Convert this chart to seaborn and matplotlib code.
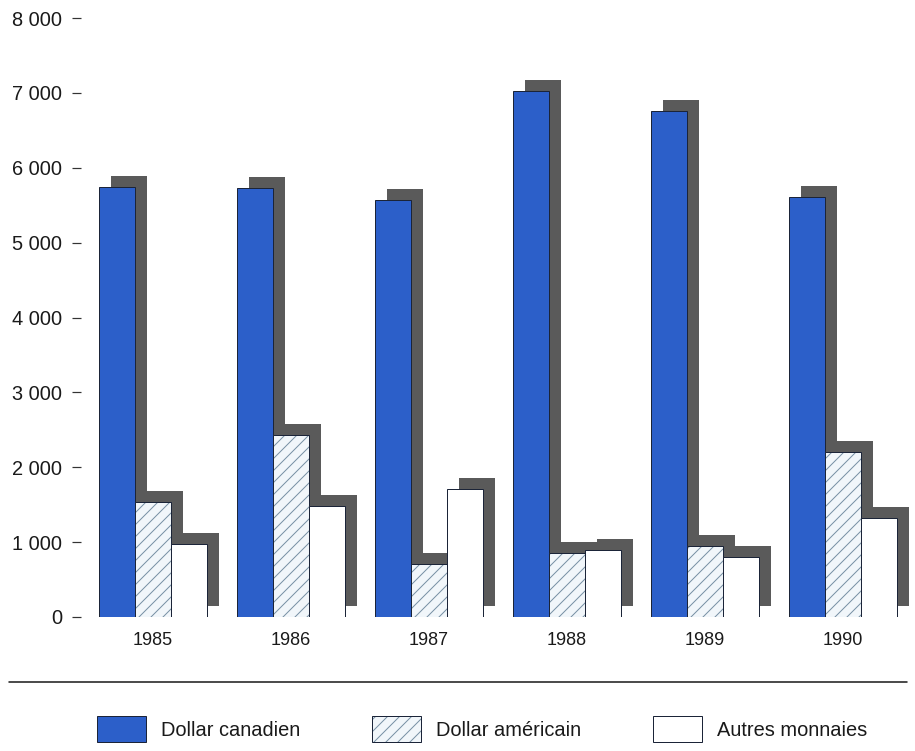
import matplotlib
matplotlib.use("Agg")
import matplotlib.pyplot as plt
import matplotlib.transforms as mtransforms
from matplotlib.patches import Rectangle, Patch
from matplotlib.lines import Line2D
from matplotlib.colors import to_rgba
from matplotlib.ticker import FuncFormatter
import seaborn as sns
import pandas as pd

# ---- data ----
years = ["1985", "1986", "1987", "1988", "1989", "1990"]
series = ["Dollar canadien", "Dollar américain", "Autres monnaies"]
cad = [5745, 5730, 5565, 7030, 6760, 5605]
usd = [1540, 2430, 710, 850, 945, 2200]
other = [975, 1480, 1710, 900, 805, 1325]
yticks = [0, 1000, 2000, 3000, 4000, 5000, 6000, 7000, 8000]

df = pd.DataFrame({
    "year": years * 3,
    "series": [series[0]] * 6 + [series[1]] * 6 + [series[2]] * 6,
    "value": cad + usd + other,
})

# ---- style ----
sns.set_theme(style="white")
plt.rcParams["font.family"] = ["Liberation Sans", "DejaVu Sans"]
plt.rcParams["hatch.linewidth"] = 1.0

BLUE = "#2c5fc9"
EDGE = "#1b2438"
HATCH_BG = "#f1f6fa"
HATCH_COL = "#7890a4"
SHADOW = "#5a5a5a"

DPI = 72
fig = plt.figure(figsize=(915 / DPI, 751 / DPI), dpi=DPI)
ax = fig.add_axes([84 / 915, (751 - 617) / 751, 828 / 915, 599 / 751])

palette = {series[0]: BLUE, series[1]: HATCH_BG, series[2]: "white"}
sns.barplot(data=df, x="year", y="value", hue="series", hue_order=series,
            order=years, palette=palette, saturation=1, width=0.78,
            legend=False, ax=ax, zorder=3)

hatches = ["", "//", ""]
shadow_tr = ax.transData + mtransforms.ScaledTranslation(12 / DPI, 11 / DPI, fig.dpi_scale_trans)

def set_hatch_color(p, c):
    if hasattr(p, "set_hatchcolor"):
        p.set_hatchcolor(c)
    else:
        p._hatch_color = to_rgba(c)

for cont, h in zip(ax.containers, hatches):
    for p in cont.patches:
        p.set_edgecolor(EDGE)
        p.set_linewidth(1.0)
        p.set_zorder(3)
        if h:
            p.set_hatch(h)
            set_hatch_color(p, HATCH_COL)
        sh = Rectangle((p.get_x(), p.get_y()), p.get_width(), p.get_height(),
                       transform=shadow_tr, facecolor=SHADOW, edgecolor="none",
                       zorder=1, clip_on=False)
        ax.add_patch(sh)

ax.set_xlim(-0.5, len(years) - 0.5)
ax.set_ylim(0, 8000)
ax.set_yticks(yticks)
ax.yaxis.set_major_formatter(FuncFormatter(lambda v, pos: f"{int(v):,}".replace(",", " ")))
ax.set_xlabel("")
ax.set_ylabel("")

for s in ["top", "right", "bottom", "left"]:
    ax.spines[s].set_visible(False)
ax.spines["left"].set_position(("outward", 3))

ax.tick_params(axis="y", left=True, length=9, width=1.2, color="#333333",
               pad=10, labelsize=20, labelcolor="#1a1a1a")
ax.tick_params(axis="x", bottom=True, length=0, pad=15, labelsize=18,
               labelcolor="#1a1a1a")
ax.grid(False)

# separator line
fig.add_artist(Line2D([9 / 915, 907 / 915], [(751 - 682) / 751] * 2,
                      transform=fig.transFigure, color="#222222", linewidth=1.6))

# legend
h_cad = Patch(facecolor=BLUE, edgecolor=EDGE, linewidth=1.0)
h_usd = Patch(facecolor=HATCH_BG, edgecolor=EDGE, linewidth=1.0, hatch="//")
set_hatch_color(h_usd, HATCH_COL)
h_oth = Patch(facecolor="white", edgecolor=EDGE, linewidth=1.0)
fig.legend([h_cad, h_usd, h_oth], series, loc="center",
           bbox_to_anchor=(482 / 915, (751 - 729) / 751), ncol=3,
           frameon=False, fontsize=20, handlelength=2.45, handleheight=1.65,
           handletextpad=0.75, columnspacing=3.6, labelcolor="#1a1a1a")

fig.savefig("out.png", dpi=DPI, facecolor="white")
